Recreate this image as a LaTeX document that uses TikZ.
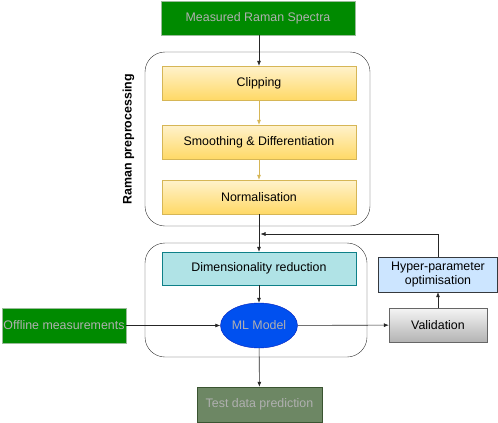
\documentclass[tikz,border=0pt]{standalone}
\usepackage{fontspec}
\setmainfont{Liberation Sans}
\usetikzlibrary{arrows.meta,shapes.geometric}
\definecolor{dgreen}{HTML}{008A00}
\definecolor{dgreenb}{HTML}{005700}
\definecolor{ylwtop}{HTML}{FFF2CC}
\definecolor{ylwbot}{HTML}{FFD966}
\definecolor{ylwb}{HTML}{D6B656}
\definecolor{teal}{HTML}{B0E3E6}
\definecolor{tealb}{HTML}{0E8088}
\definecolor{mlblue}{HTML}{0050EF}
\definecolor{mlblueb}{HTML}{001DBC}
\definecolor{hpfill}{HTML}{CCE5FF}
\definecolor{hpb}{HTML}{36393D}
\definecolor{vtop}{HTML}{F5F5F5}
\definecolor{vbot}{HTML}{B3B3B3}
\definecolor{vb}{HTML}{666666}
\definecolor{tfill}{HTML}{6D8764}
\definecolor{tb}{HTML}{3A5431}
\definecolor{ltext}{HTML}{B0B0B0}
\newcommand{\dfont}{\fontsize{12.4}{14.5}\selectfont}
\tikzset{
  box/.style={rectangle, draw, inner sep=0pt, align=center, font=\dfont},
  greenbox/.style={box, fill=dgreen, draw=dgreenb!40!white, text=ltext},
  ylwbox/.style={box, draw=ylwb, top color=ylwtop, bottom color=ylwbot, minimum width=194pt, minimum height=34pt},
  container/.style={draw=black!80, rounded corners=20pt, thin},
  arr/.style={-{Latex[length=5pt,width=4pt]}, draw=black!85, line width=0.6pt},
  yarr/.style={-{Latex[length=5pt,width=4pt]}, draw=ylwb, line width=0.6pt},
}
\begin{document}
\begin{tikzpicture}[x=1pt,y=-1pt]
\useasboundingbox (0,0) rectangle (498,423);
% containers
\draw[container] (145,52) rectangle (370,226);
\draw[container] (145,243) rectangle (367,357);
\node[rotate=90, font=\bfseries\dfont] (lbl) at (128.5,139.5) {Raman preprocessing};
% nodes
\node[greenbox, minimum width=194pt, minimum height=34pt] (meas) at (258,18) {Measured Raman Spectra};
\node[ylwbox] (clip) at (259,83) {Clipping};
\node[ylwbox] (smooth) at (259,142) {Smoothing \& Differentiation};
\node[ylwbox] (norm) at (259,197) {Normalisation};
\node[box, fill=teal, draw=tealb, minimum width=194pt, minimum height=33pt] (dim) at (259,268.5) {Dimensionality reduction};
\node[ellipse, draw=mlblueb, fill=mlblue, text=ltext, minimum width=68pt, minimum height=45pt, inner sep=0pt, font=\dfont] (ml) at (259,325.5) {ML Model};
\node[greenbox, minimum width=124pt, minimum height=35pt] (off) at (64,325.5) {Offline measurements};
\node[box, draw=vb, top color=vtop, bottom color=vbot, minimum width=98pt, minimum height=34pt] (val) at (438,325) {Validation};
\node[box, draw=hpb, fill=hpfill, minimum width=119pt, minimum height=35pt] (hyp) at (438,274.5) {Hyper-parameter\\[-1pt]optimisation};
\node[box, draw=tb, fill=tfill, text=ltext, minimum width=125pt, minimum height=35pt] (test) at (259.5,404.5) {Test data prediction};
\coordinate (fb) at (260.5,234);
% connectors
\draw[arr] (meas.south -| clip.north) -- (clip.north);
\draw[yarr] (clip) -- (smooth);
\draw[yarr] (smooth) -- (norm);
\draw[arr] (norm) -- (dim);
\draw[arr] (dim) -- (ml);
\draw[arr] (off) -- (ml);
\draw[arr] (ml) -- (val);
\draw[arr] (val) -- (hyp);
\draw[arr] (ml) -- (test);
\draw[arr] (hyp.north) |- (fb);
\end{tikzpicture}
\end{document}
